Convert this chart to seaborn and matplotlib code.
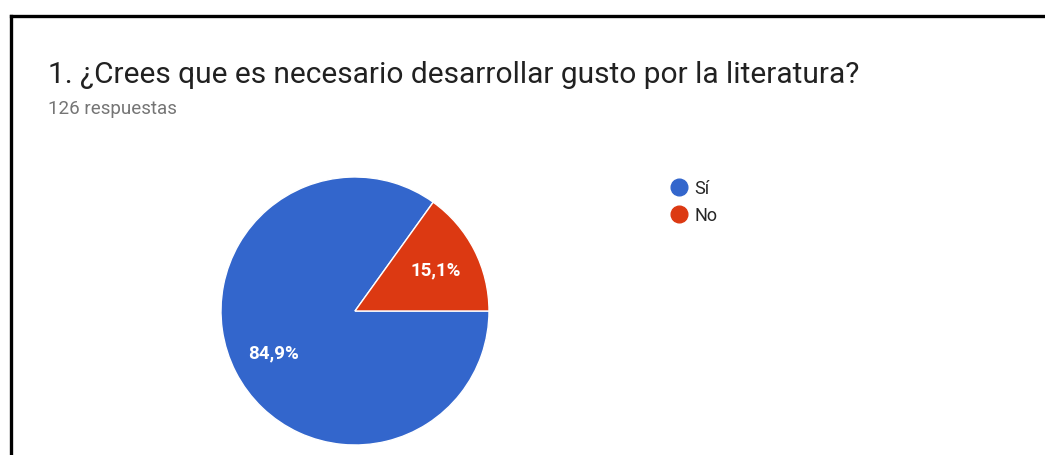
import matplotlib
matplotlib.use('Agg')
import matplotlib.pyplot as plt
import seaborn as sns
from matplotlib.lines import Line2D

# Survey data
labels = ['Sí', 'No']
counts = [107, 19]
colors = ['#3366CC', '#DC3912']
title = '1. ¿Crees que es necesario desarrollar gusto por la literatura?'
subtitle = '126 respuestas'

sns.set_theme(style='white')
plt.rcParams['font.family'] = ['Roboto', 'DejaVu Sans']

W, H = 1045, 456
fig = plt.figure(figsize=(W / 100, H / 100), dpi=100)
fig.patch.set_facecolor('white')

# Pie axes placed in pixel units
cx, cy, r = 355, 312, 134
ax = fig.add_axes([(cx - r) / W, (H - cy - r) / H, 2 * r / W, 2 * r / H])
wedges, texts, autotexts = ax.pie(
    counts, colors=colors, startangle=0, counterclock=False,
    autopct=lambda p: f'{p:.1f}%'.replace('.', ','), pctdistance=0.68,
    wedgeprops={'edgecolor': 'white', 'linewidth': 1},
    textprops={'color': 'white', 'fontsize': 13.5, 'fontweight': 'bold'},
    radius=1)
ax.set_xlim(-1, 1)
ax.set_ylim(-1, 1)
ax.set_aspect('equal')
ax.axis('off')

# Title and subtitle
fig.text(48 / W, 1 - 75 / H, title, fontsize=21.5, color='#212121',
         va='center', ha='left')
fig.text(48 / W, 1 - 109 / H, subtitle, fontsize=13.5, color='#757575',
         va='center', ha='left')

# Legend
handles = [Line2D([], [], marker='o', linestyle='', markersize=12,
                  markerfacecolor=c, markeredgecolor=c) for c in colors]
fig.legend(handles, labels, loc='upper left', bbox_to_anchor=(669 / W, 1 - 180 / H),
           frameon=False, fontsize=13, handletextpad=0.3, labelspacing=0.5,
           handlelength=1.1, borderaxespad=0, borderpad=0)

# Frame lines (left and top)
fig.add_artist(Line2D([10.5 / W, 10.5 / W], [0, 1 - 16.5 / H], color='black',
                      linewidth=2.4, solid_capstyle='projecting'))
fig.add_artist(Line2D([10.5 / W, 1], [1 - 16.5 / H, 1 - 16.5 / H], color='black',
                      linewidth=2.4, solid_capstyle='projecting'))

fig.savefig('out.png', dpi=100)
